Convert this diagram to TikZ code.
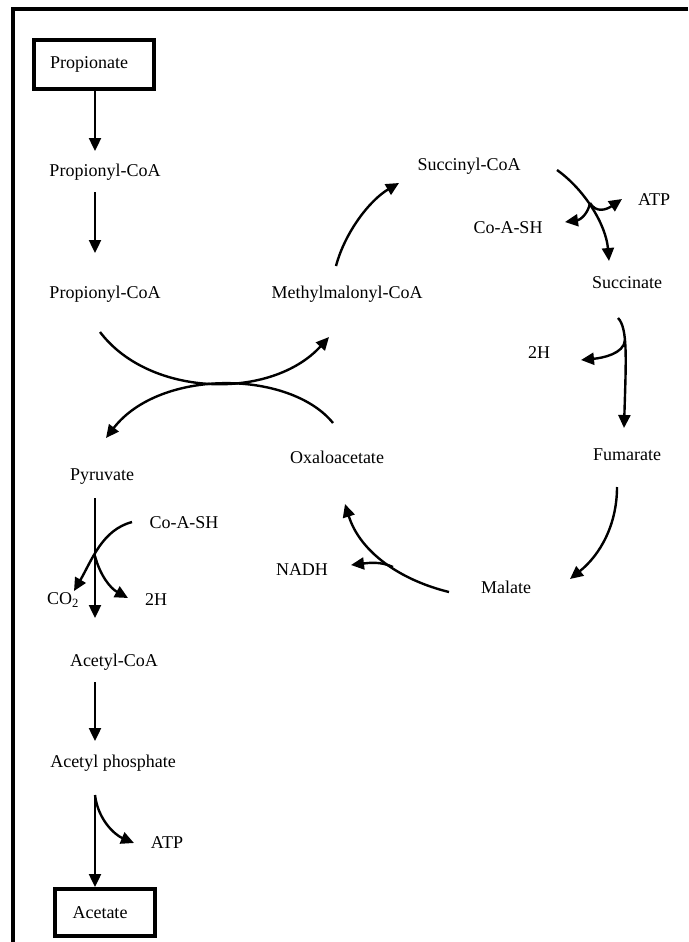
\documentclass[tikz,border=0pt]{standalone}
\usepackage{fontspec}
\setmainfont{Liberation Serif}
\usetikzlibrary{arrows.meta}
\begin{document}
\begin{tikzpicture}[x=1pt,y=-1pt,
  lbl/.style={inner sep=0pt, font=\fontsize{18}{20}\selectfont},
  boxnode/.style={draw, line width=4pt, inner sep=0pt, font=\fontsize{18}{20}\selectfont},
  ln/.style={line width=2.4pt},
  arr/.style={line width=2.4pt, -{Triangle[length=13pt,width=12pt]}}]
\useasboundingbox (0,0) rectangle (688,942);
% frame
\draw[line width=4pt] (688,9) -- (13,9) -- (13,942);
% nodes
\node[boxnode, minimum width=120pt, minimum height=49pt] (prop) at (94,64.5) {\kern-10pt Propionate};
\node[lbl] (pcoa1) at (105,172) {Propionyl-CoA};
\node[lbl] (pcoa2) at (105,294) {Propionyl-CoA};
\node[lbl] (mmcoa) at (347,294) {Methylmalonyl-CoA};
\node[lbl] (scoa) at (469,166) {Succinyl-CoA};
\node[lbl] (coashA) at (508,228) {Co-A-SH};
\node[lbl] (atpA) at (654,200) {ATP};
\node[lbl] (succ) at (627,283) {Succinate};
\node[lbl] (hA) at (539,353) {2H};
\node[lbl] (fum) at (627,455) {Fumarate};
\node[lbl] (mal) at (506,587) {Malate};
\node[lbl] (nadh) at (302,570) {NADH};
\node[lbl] (oxa) at (337,457) {Oxaloacetate};
\node[lbl] (pyr) at (102,477) {Pyruvate};
\node[lbl] (coashB) at (184,523) {Co-A-SH};
\node[lbl] (co2) at (63,600) {CO\textsubscript{2}};
\node[lbl] (hB) at (156,600) {2H};
\node[lbl] (acoa) at (114,662) {Acetyl-CoA};
\node[lbl] (acp) at (113,763) {Acetyl phosphate};
\node[lbl] (atpB) at (167,843) {ATP};
\node[boxnode, minimum width=100pt, minimum height=47pt] (acet) at (105,912.5) {\kern-10pt Acetate};
% anchor coordinates
\coordinate (a1s) at (95,89);
\coordinate (a1e) at (95,151);
\coordinate (a2s) at (95,192);
\coordinate (a2e) at (95,253);
% straight arrows
\draw[arr] (prop.south -| a1s) -- (a1e);
\draw[arr] (a2s) -- (a2e);
% crossing arcs
\coordinate (xA) at (100,332);
\coordinate (xAe) at (329,337);
\coordinate (xB) at (333,423);
\coordinate (xBe) at (106,438);
\draw[arr] (xA) .. controls (150,398) and (272,400) .. (xAe);
\draw[arr] (xB) .. controls (290,370) and (160,368) .. (xBe);
% methylmalonyl -> succinyl
\coordinate (m1) at (336,266);
\coordinate (m1e) at (399,183);
\draw[arr] (m1) .. controls (345,232) and (370,200) .. (m1e);
% succinyl -> succinate
\coordinate (s1) at (557,170);
\coordinate (s1e) at (609,261);
\coordinate (s1b) at (590,203);
\draw[arr] (s1) .. controls (585,190) and (606,225) .. (s1e);
\draw[arr] (s1b) .. controls (588,214) and (580,220) .. (565,222);
\draw[arr] (s1b) .. controls (596,213) and (606,210) .. (622,199);
% succinate -> fumarate
\coordinate (f1) at (618,318);
\coordinate (f1e) at (624,428);
\coordinate (f1b) at (625,340);
\draw[arr] (f1) .. controls (628,328) and (626,360) .. (f1e);
\draw[arr] (f1b) .. controls (624,354) and (602,358) .. (581,360);
% fumarate -> malate
\coordinate (g1) at (617,487);
\coordinate (g1e) at (570,579);
\draw[arr] (g1) .. controls (617,525) and (600,555) .. (g1e);
% malate -> oxaloacetate
\coordinate (h1) at (449,592);
\coordinate (h1e) at (345,504);
\coordinate (h1b) at (393,567);
\draw[arr] (h1) .. controls (400,580) and (360,552) .. (h1e);
\draw[arr] (h1b) .. controls (380,561) and (368,563) .. (351,565);
% pyruvate -> acetyl-CoA
\coordinate (p1) at (95,498);
\coordinate (p1e) at (95,618);
\coordinate (p1b) at (95,556);
\draw[arr] (p1) -- (p1e);
\draw[arr] (132,522) .. controls (102,530) and (92,560) .. (74,591);
\draw[arr] (p1b) .. controls (100,575) and (110,588) .. (128,598);
% acetyl-CoA -> acetyl phosphate
\coordinate (q1) at (95,682);
\coordinate (q1e) at (95,741);
\draw[arr] (q1) -- (q1e);
% acetyl phosphate -> acetate
\coordinate (r1) at (95,795);
\draw[arr] (r1) -- (acet.north -| r1);
\draw[arr] (r1) .. controls (98,820) and (115,835) .. (134,843);
\end{tikzpicture}
\end{document}
